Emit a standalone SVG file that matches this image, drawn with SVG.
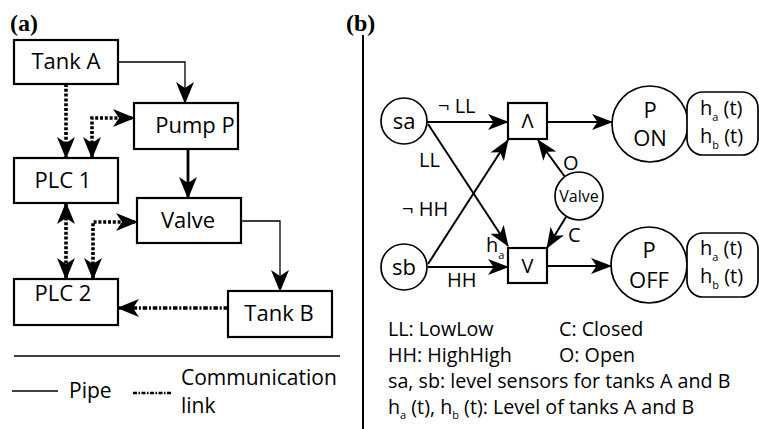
<svg xmlns="http://www.w3.org/2000/svg" width="759" height="429" viewBox="0 0 759 429">
<defs>
<style>
text{font-family:"Open Sans","Liberation Sans",sans-serif;fill:#000}
.lbl{font-size:20px}
.big{font-size:22px}
.leg{font-size:21px}
.legb{font-size:19.7px}
.mid{text-anchor:middle}
.pl{font-family:"Liberation Serif",serif;font-weight:bold;font-size:24px}
.box{fill:#fff;stroke:#000;stroke-width:2.2}
.circ{fill:#fff;stroke:#000;stroke-width:1.7}
.pipe{fill:none;stroke:#000;stroke-width:1.3}
.pipeT{fill:none;stroke:#000;stroke-width:2.8}
.comm{fill:none;stroke:#000;stroke-width:3.6;stroke-dasharray:3,1.8}
.comm2{fill:none;stroke:#000;stroke-width:3.6;stroke-dasharray:4.5,1.8,2,1.8}
.arr{fill:none;stroke:#000;stroke-width:2}
.sub{font-size:11px}
</style>
<marker id="A" viewBox="0 0 22 18" refX="21" refY="9" markerWidth="22" markerHeight="18" markerUnits="userSpaceOnUse" orient="auto-start-reverse">
<path d="M0,0 L22,9 L0,18 L6,9 z" fill="#000"/>
</marker>
<marker id="B" viewBox="0 0 21 16" refX="20" refY="8" markerWidth="21" markerHeight="16" markerUnits="userSpaceOnUse" orient="auto">
<path d="M0,0 L21,8 L0,16 L5.5,8 z" fill="#000"/>
</marker>
</defs>
<rect width="759" height="429" fill="#fff"/>

<text class="pl" x="10" y="31">(a)</text>
<text class="pl" x="346" y="31">(b)</text>
<line x1="363" y1="35" x2="363" y2="429" stroke="#000" stroke-width="2"/>

<g id="connectors-a">
<polyline class="pipe" points="118,62 185,62 185,103" marker-end="url(#A)"/>
<line class="comm" x1="66" y1="84" x2="66" y2="158" marker-end="url(#A)"/>
<polyline class="comm" points="92,158 92,118 134,118" marker-start="url(#A)" marker-end="url(#A)"/>
<line class="pipeT" x1="188" y1="149" x2="188" y2="198" marker-end="url(#A)"/>
<line class="comm" x1="66" y1="203" x2="66" y2="279" marker-start="url(#A)" marker-end="url(#A)"/>
<polyline class="comm" points="93,279 93,222 137,222" marker-start="url(#A)" marker-end="url(#A)"/>
<polyline class="pipe" points="241,221 280,221 280,291" marker-end="url(#A)"/>
<line class="comm2" x1="228" y1="308" x2="118" y2="308" marker-end="url(#A)"/>
</g>

<g id="tankA"><rect class="box" x="14" y="40" width="104" height="44"/><text class="big mid" x="66" y="69">Tank A</text></g>
<g id="pumpP"><rect class="box" x="134" y="103" width="104" height="46"/><text class="big mid" x="195" y="133">Pump P</text></g>
<g id="plc1"><rect class="box" x="14" y="158" width="104" height="45"/><text class="big mid" x="63" y="188">PLC 1</text></g>
<g id="valve"><rect class="box" x="137" y="198" width="104" height="45"/><text class="big mid" x="188" y="228">Valve</text></g>
<g id="plc2"><rect class="box" x="14" y="279" width="104" height="46"/><text class="big mid" x="63" y="301">PLC 2</text></g>
<g id="tankB"><rect class="box" x="228" y="291" width="104" height="46"/><text class="big mid" x="279" y="321">Tank B</text></g>

<g id="legend-a">
<line x1="14" y1="356" x2="340" y2="356" stroke="#000" stroke-width="1.6"/>
<line x1="12" y1="391" x2="58" y2="391" stroke="#000" stroke-width="1.3"/>
<text class="leg" x="69" y="398">Pipe</text>
<line x1="133" y1="393" x2="172" y2="393" stroke="#000" stroke-width="2.5" stroke-dasharray="4,1.5,1.5,1.5"/>
<text class="leg" x="181" y="385">Communication</text>
<text class="leg" x="181" y="413">link</text>
</g>

<g id="connectors-b">
<line class="arr" x1="427" y1="122" x2="508" y2="122" marker-end="url(#B)"/>
<line class="arr" x1="428" y1="124" x2="508" y2="246" marker-end="url(#B)"/>
<line class="arr" x1="428" y1="264" x2="508" y2="140" marker-end="url(#B)"/>
<line class="arr" x1="428" y1="267" x2="508" y2="267" marker-end="url(#B)"/>
<line class="arr" x1="547" y1="122" x2="612" y2="122" marker-end="url(#B)"/>
<line class="arr" x1="547" y1="266" x2="611" y2="266" marker-end="url(#B)"/>
<line class="arr" x1="565" y1="177" x2="538" y2="140" marker-end="url(#B)"/>
<line class="arr" x1="566" y1="217" x2="547" y2="248" marker-end="url(#B)"/>
<text class="lbl" x="438" y="113">¬ LL</text>
<text class="lbl" x="419" y="167">LL</text>
<text class="lbl" x="402" y="216">¬ HH</text>
<text class="lbl" x="447" y="287">HH</text>
<text class="lbl" x="563" y="170">O</text>
<text class="lbl" x="568" y="242">C</text>
<text class="lbl" x="486" y="252">h<tspan class="sub" dy="7">a</tspan></text>
</g>

<g id="sa"><circle class="circ" cx="404" cy="121" r="23"/><text class="big mid" x="404" y="129">sa</text></g>
<g id="sb"><circle class="circ" cx="404" cy="267" r="23"/><text class="big mid" x="404" y="275">sb</text></g>
<g id="and"><rect class="box" x="508" y="103" width="39" height="36"/><text class="lbl mid" x="527.5" y="128">Λ</text></g>
<g id="or"><rect class="box" x="508" y="248" width="39" height="35"/><text class="lbl mid" x="527.5" y="273">V</text></g>
<g id="valveb"><circle class="circ" cx="579" cy="196" r="24"/><text class="mid" x="579" y="202" font-size="16">Valve</text></g>
<g id="pon"><circle class="circ" cx="650" cy="124" r="38"/><text class="big mid" x="650" y="118">P</text><text class="big mid" x="650" y="146">ON</text></g>
<g id="hon"><rect class="circ" x="687" y="92" width="71" height="63" rx="16"/><text class="lbl" x="700" y="115">h<tspan class="sub" dy="6">a</tspan><tspan dy="-6"> (t)</tspan></text><text class="lbl" x="700" y="143">h<tspan class="sub" dy="6">b</tspan><tspan dy="-6"> (t)</tspan></text></g>
<g id="poff"><circle class="circ" cx="649" cy="265" r="38"/><text class="big mid" x="649" y="258">P</text><text class="big mid" x="649" y="288">OFF</text></g>
<g id="hoff"><rect class="circ" x="687" y="233" width="71" height="64" rx="16"/><text class="lbl" x="700" y="255">h<tspan class="sub" dy="6">a</tspan><tspan dy="-6"> (t)</tspan></text><text class="lbl" x="700" y="283">h<tspan class="sub" dy="6">b</tspan><tspan dy="-6"> (t)</tspan></text></g>

<g id="legend-b">
<text class="legb" x="388" y="336">LL: LowLow</text>
<text class="legb" x="559" y="336">C: Closed</text>
<text class="legb" x="388" y="362">HH: HighHigh</text>
<text class="legb" x="559" y="362">O: Open</text>
<text class="legb" x="388" y="388">sa, sb: level sensors for tanks A and B</text>
<text class="legb" x="388" y="414">h<tspan class="sub" dy="5">a</tspan><tspan dy="-5"> (t), h</tspan><tspan class="sub" dy="5">b</tspan><tspan dy="-5"> (t): Level of tanks A and B</tspan></text>
</g>
</svg>
